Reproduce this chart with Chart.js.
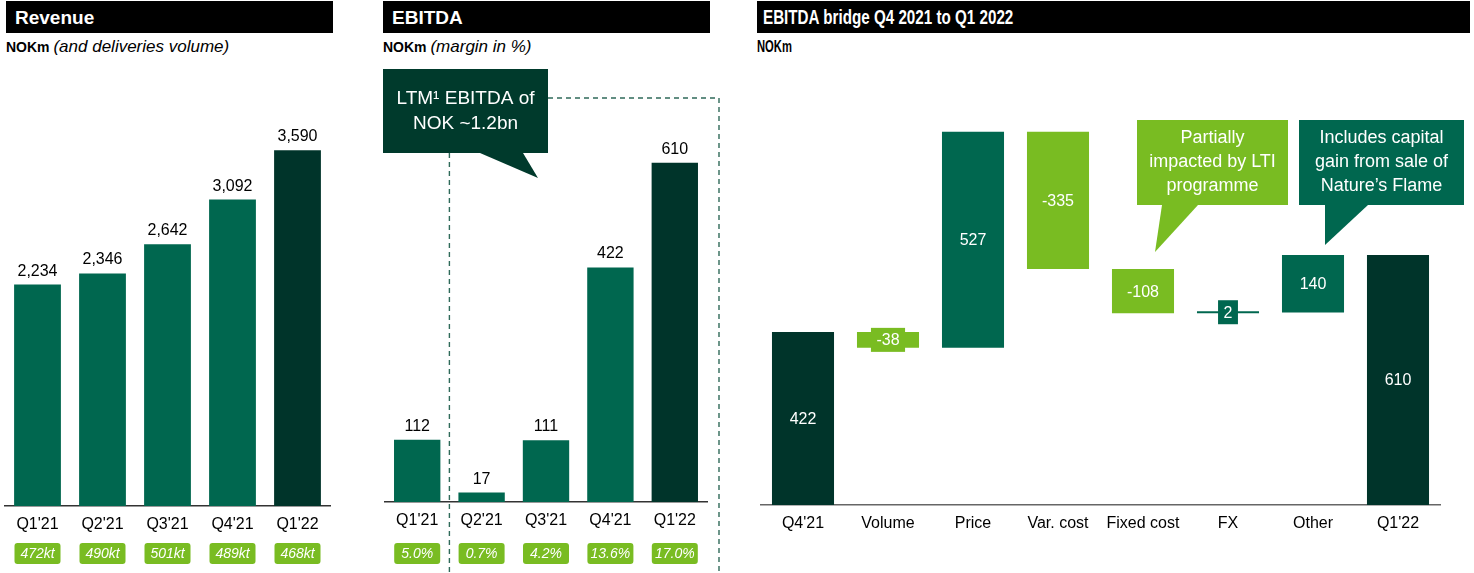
<!DOCTYPE html>
<html lang="en">
<head>
<meta charset="UTF-8">
<title>Revenue, EBITDA and EBITDA bridge</title>
<script src="https://cdn.jsdelivr.net/npm/chart.js"></script>
<style>
    body { margin: 0; width: 1474px; height: 573px; position: relative; overflow: hidden; background: #fff;
           font-family: "Liberation Sans", Arial, sans-serif; }
    .title { position: absolute; top: 1px; height: 32px; background: #000; color: #fff; font-weight: bold;
             font-size: 19px; line-height: 33px; padding-left: 9px; box-sizing: border-box; }
    .sub { position: absolute; top: 37px; font-size: 14px; line-height: 20px; color: #000; font-weight: bold; }
    .sub i { font-weight: normal; font-size: 17px; }
    .narrow span { display: inline-block; transform: scaleX(0.76); transform-origin: left center; white-space: nowrap; }
    .narrow.nok span { transform: scaleX(0.66); }
    canvas { position: absolute; top: 60px; }
</style>
</head>
<body>
    <div class="title" style="left:6px;width:327px">Revenue</div>
    <div class="sub" style="left:6px">NOKm <i>(and deliveries volume)</i></div>

    <div class="title" style="left:383px;width:327px">EBITDA</div>
    <div class="sub" style="left:383px">NOKm <i>(margin in %)</i></div>

    <div class="title narrow" style="left:757px;width:713px;padding-left:6px;font-size:20px"><span>EBITDA bridge Q4 2021 to Q1 2022</span></div>
    <div class="sub narrow nok" style="left:757px;font-size:17px"><span>NOKm</span></div>

    <canvas id="revChart" width="340" height="513" style="left:0px"></canvas>
    <canvas id="ebitdaChart" width="375" height="513" style="left:375px"></canvas>
    <canvas id="bridgeChart" width="719" height="513" style="left:755px"></canvas>

<script>
const revLabels = ["Q1'21", "Q2'21", "Q3'21", "Q4'21", "Q1'22"];
const revValues = [2234, 2346, 2642, 3092, 3590];
const revVolumes = ["472kt", "490kt", "501kt", "489kt", "468kt"];

const ebitdaLabels = ["Q1'21", "Q2'21", "Q3'21", "Q4'21", "Q1'22"];
const ebitdaValues = [112, 17, 111, 422, 610];
const ebitdaMargins = ["5.0%", "0.7%", "4.2%", "13.6%", "17.0%"];

const bridgeLabels = ["Q4'21", "Volume", "Price", "Var. cost", "Fixed cost", "FX", "Other", "Q1'22"];
const bridgeValues = [422, -38, 527, -335, -108, 2, 140, 610];
const bridgeTotals = [true, false, false, false, false, false, false, true];

const GREEN = '#00674f';
const DARK = '#00342a';
const LIME = '#79bc22';
const FONT = '"Liberation Sans", Arial, sans-serif';
Chart.defaults.font.family = FONT;

// value above each bar
const topLabels = (texts) => ({
    id: 'topLabels',
    afterDatasetsDraw(chart) {
        const ctx = chart.ctx;
        ctx.save();
        ctx.font = '16px ' + FONT;
        ctx.fillStyle = '#000';
        ctx.textAlign = 'center';
        ctx.textBaseline = 'alphabetic';
        chart.getDatasetMeta(0).data.forEach((bar, i) => ctx.fillText(texts[i], bar.x, bar.y - 9));
        ctx.restore();
    }
});

// green pills under the category labels
const pills = (texts) => ({
    id: 'pills',
    afterDraw(chart) {
        const ctx = chart.ctx;
        const top = chart.height - 30;
        ctx.save();
        chart.getDatasetMeta(0).data.forEach((bar, i) => {
            ctx.fillStyle = LIME;
            ctx.beginPath();
            ctx.roundRect(bar.x - 23, top, 46, 21, 3);
            ctx.fill();
            ctx.fillStyle = '#fff';
            ctx.font = 'italic 14px ' + FONT;
            ctx.textAlign = 'center';
            ctx.textBaseline = 'middle';
            ctx.fillText(texts[i], bar.x, top + 11);
        });
        ctx.restore();
    }
});

function callout(ctx, box, tail, color, lines, size) {
    ctx.save();
    ctx.fillStyle = color;
    ctx.fillRect(box.x, box.y, box.w, box.h);
    ctx.beginPath();
    ctx.moveTo(tail[0][0], tail[0][1]);
    ctx.lineTo(tail[1][0], tail[1][1]);
    ctx.lineTo(tail[2][0], tail[2][1]);
    ctx.closePath();
    ctx.fill();
    ctx.fillStyle = '#fff';
    ctx.font = size + 'px ' + FONT;
    ctx.textAlign = 'center';
    ctx.textBaseline = 'middle';
    const lh = size + 6;
    const cy = box.y + box.h / 2 - (lines.length - 1) * lh / 2;
    lines.forEach((t, i) => ctx.fillText(t, box.x + box.w / 2, cy + i * lh));
    ctx.restore();
}

function baseOptions(yMax, axisHeight, padding, borderColor) {
    return {
        responsive: false,
        animation: false,
        layout: { padding: padding },
        plugins: { legend: { display: false }, tooltip: { enabled: false } },
        scales: {
            x: {
                grid: { display: false, drawTicks: false },
                border: { display: true, color: borderColor, width: 1.5 },
                ticks: { color: '#000', font: { size: 16 }, padding: 9 },
                afterFit: (axis) => { axis.height = axisHeight; }
            },
            y: { display: false, min: 0, max: yMax }
        }
    };
}

// Revenue
new Chart(document.getElementById('revChart'), {
    type: 'bar',
    data: {
        labels: revLabels,
        datasets: [{
            data: revValues,
            backgroundColor: revValues.map((v, i) => i === revValues.length - 1 ? DARK : GREEN),
            barPercentage: 0.72,
            categoryPercentage: 1
        }]
    },
    options: baseOptions(4500, 67, { left: 5, right: 10, top: 0 }, '#333'),
    plugins: [topLabels(revValues.map(v => v.toLocaleString('en-US'))), pills(revVolumes)]
});

// EBITDA
const ebitdaExtras = {
    id: 'ebitdaExtras',
    afterDraw(chart) {
        const ctx = chart.ctx;
        const x = chart.scales.x;
        const area = chart.chartArea;
        const split = (x.getPixelForValue(0) + x.getPixelForValue(1)) / 2;
        const right = area.right + 12;
        const box = { x: area.left - 2, y: 9, w: 165, h: 84 };
        ctx.save();
        ctx.strokeStyle = '#2f6a59';
        ctx.lineWidth = 1.4;
        ctx.setLineDash([5, 4]);
        ctx.beginPath();
        ctx.moveTo(box.x + box.w, 38);
        ctx.lineTo(right, 38);
        ctx.lineTo(right, chart.height);
        ctx.moveTo(split, box.y + box.h);
        ctx.lineTo(split, chart.height);
        ctx.stroke();
        ctx.restore();
        callout(ctx, box,
            [[box.x + 97, box.y + box.h], [box.x + 140, box.y + box.h], [box.x + 155, 118]],
            '#003a2c', ['LTM\u00B9 EBITDA of', 'NOK ~1.2bn'], 19);
    }
};

new Chart(document.getElementById('ebitdaChart'), {
    type: 'bar',
    data: {
        labels: ebitdaLabels,
        datasets: [{
            data: ebitdaValues,
            backgroundColor: ebitdaValues.map((v, i) => i === ebitdaValues.length - 1 ? DARK : GREEN),
            barPercentage: 0.72,
            categoryPercentage: 1
        }]
    },
    options: baseOptions(795, 71, { left: 10, right: 43, top: 0 }, '#333'),
    plugins: [topLabels(ebitdaValues.map(String)), pills(ebitdaMargins), ebitdaExtras]
});

// EBITDA bridge
let running = 0;
const bridgeBars = bridgeValues.map((v, i) => {
    if (bridgeTotals[i]) { running = v; return [0, v]; }
    const bar = [running, running + v];
    running += v;
    return bar;
});
const bridgeColors = bridgeValues.map((v, i) => bridgeTotals[i] ? DARK : (v >= 0 ? GREEN : LIME));

const bridgeLabelsPlugin = {
    id: 'bridgeLabels',
    afterDatasetsDraw(chart) {
        const ctx = chart.ctx;
        ctx.save();
        ctx.font = '16px ' + FONT;
        ctx.textAlign = 'center';
        ctx.textBaseline = 'middle';
        chart.getDatasetMeta(0).data.forEach((bar, i) => {
            const mid = (bar.y + bar.base) / 2;
            const txt = String(bridgeValues[i]);
            if (Math.abs(bar.base - bar.y) < 22) {
                const w = ctx.measureText(txt).width + 11;
                ctx.fillStyle = bridgeColors[i];
                ctx.fillRect(bar.x - w / 2, mid - 12, w, 24);
            }
            ctx.fillStyle = '#fff';
            ctx.fillText(txt, bar.x, mid + 1);
        });
        ctx.restore();
    }
};

const bridgeCallouts = {
    id: 'bridgeCallouts',
    afterDraw(chart) {
        const ctx = chart.ctx;
        const x = chart.scales.x;
        const y = chart.scales.y;
        const xf = x.getPixelForValue(4);
        const yf = y.getPixelForValue(Math.max(...bridgeBars[4]));
        callout(ctx, { x: xf - 6, y: 60, w: 151, h: 85 },
            [[xf + 19, 145], [xf + 55, 145], [xf + 12, yf - 17]],
            LIME, ['Partially', 'impacted by LTI', 'programme'], 18);
        const xo = x.getPixelForValue(6);
        const yo = y.getPixelForValue(Math.max(...bridgeBars[6]));
        callout(ctx, { x: xo - 14, y: 60, w: 165, h: 85 },
            [[xo + 12, 145], [xo + 55, 145], [xo + 12, yo - 10]],
            GREEN, ['Includes capital', 'gain from sale of', 'Nature\u2019s Flame'], 18);
    }
};

new Chart(document.getElementById('bridgeChart'), {
    type: 'bar',
    data: {
        labels: bridgeLabels,
        datasets: [{
            data: bridgeBars,
            backgroundColor: bridgeColors,
            minBarLength: 2,
            barPercentage: 0.73,
            categoryPercentage: 1
        }]
    },
    options: baseOptions(1086, 68, { left: 5.5, right: 33.5, top: 0 }, '#666'),
    plugins: [bridgeLabelsPlugin, bridgeCallouts]
});
</script>
</body>
</html>
